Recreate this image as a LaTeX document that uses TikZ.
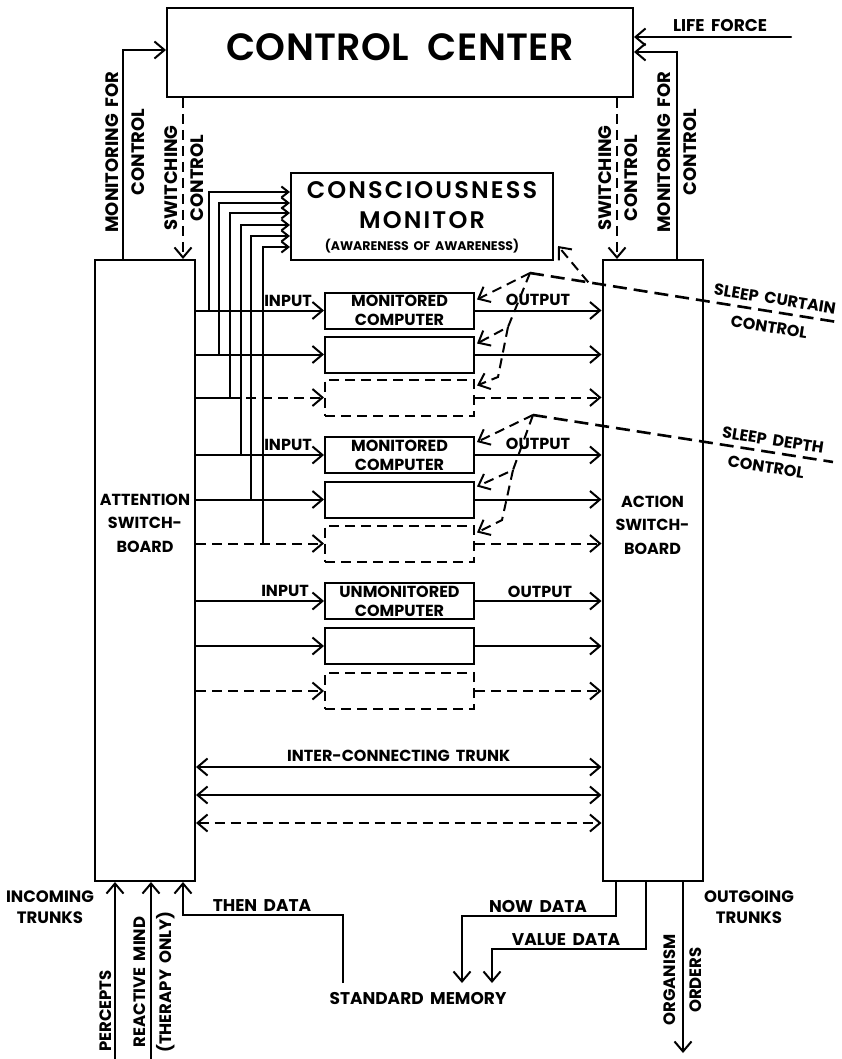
\documentclass[tikz,border=0pt]{standalone}
\usepackage{fontspec}
\newfontfamily\futura{Poppins Bold}[WordSpace=1.8]
\newfontfamily\futurawide{Poppins SemiBold}[LetterSpace=1,WordSpace=2]
\newfontfamily\futuraspread{Poppins SemiBold}[LetterSpace=9]
\usepackage{tikz}
\usetikzlibrary{arrows.meta,positioning,calc}

\begin{document}
\begin{tikzpicture}[x=1pt, y=-1pt, line width=2pt,
  >={Straight Barb[length=10pt,width=17pt]},
  lbl/.style={font=\futura\fontsize{16}{19}\selectfont, inner sep=1pt, align=center},
  vlbl/.style={font=\futura\fontsize{18}{26}\selectfont, inner sep=0pt, align=center, rotate=90},
  blbl/.style={font=\futura\fontsize{16.5}{26}\selectfont, inner sep=0pt, align=center, rotate=90},
  tilt/.style={font=\futura\fontsize{16}{19}\selectfont, inner sep=0pt, rotate=-9},
  board/.style={draw, rectangle, inner sep=0pt, minimum width=100pt, minimum height=621pt},
  comp/.style={draw, rectangle, inner sep=0pt, minimum width=149pt, minimum height=36pt, lbl},
  dashcomp/.style={comp, dsh},
  dsh/.style={dash pattern=on 10pt off 6pt},
  curtain/.style={line width=2.6pt, dash pattern=on 14pt off 7pt},
  feed/.style={-{Straight Barb[length=7pt,width=11pt]}}]
\useasboundingbox (0,0) rectangle (841,1059);

% Main boxes
\node[draw, minimum width=466pt, minimum height=89pt, inner sep=0pt, text height=27pt, text depth=10pt,
  font=\futurawide\fontsize{38}{40}\selectfont] (cc) at (400,52.5) {CONTROL CENTER};
\node[draw, minimum width=262pt, minimum height=87pt, inner sep=0pt] (cm) at (422,216.5) {};
\node[font=\futuraspread\fontsize{24}{26}\selectfont, anchor=base, inner sep=0pt] (cmt) at ($(cm.north)+(0,27)$) {CONSCIOUSNESS};
\node[font=\futuraspread\fontsize{24}{26}\selectfont, anchor=base, inner sep=0pt] (cmm) at ($(cm.north)+(0,57)$) {MONITOR};
\node[font=\futura\fontsize{12.5}{13}\selectfont, anchor=base, inner sep=0pt] (cma) at ($(cm.north)+(0,79)$) {(AWARENESS OF AWARENESS)};
\node[board] (att) at (145,570.5) {};
\node[board] (act) at (652.5,570.5) {};
\node[lbl, font=\futura\fontsize{16}{23.5}\selectfont] at (145,523) {ATTENTION\\SWITCH-\\BOARD};
\node[lbl, font=\futura\fontsize{16}{23.5}\selectfont] at (652.5,525) {ACTION\\SWITCH-\\BOARD};

% Computers
\node[comp] (c1) at (399.5,310.5) {MONITORED\\COMPUTER};
\node[comp] (c2) at (399.5,354.5) {};
\node[dashcomp] (c3) at (399.5,397.5) {};
\node[comp] (c4) at (399.5,455) {MONITORED\\COMPUTER};
\node[comp] (c5) at (399.5,499.5) {};
\node[dashcomp] (c6) at (399.5,543.5) {};
\node[comp] (c7) at (399.5,601) {UNMONITORED\\COMPUTER};
\node[comp] (c8) at (399.5,646) {};
\node[dashcomp] (c9) at (399.5,691) {};

\foreach \i in {1,2,4,5,7,8} {
  \draw[->] (att.east |- c\i.west) -- (c\i.west);
  \draw[->] (c\i.east) -- (act.west |- c\i.east);
}
\draw (att.east |- c3.west) -- (c3.west -| 230,0);
\draw[->, dsh] (c3.west -| 230,0) -- (c3.west);
\draw[->, dsh] (att.east |- c6.west) -- (c6.west);
\draw[->, dsh] (att.east |- c9.west) -- (c9.west);
\foreach \i in {3,6,9}
  \draw[->, dsh] (c\i.east) -- (act.west |- c\i.east);

% Feeders to the monitor
\foreach \i/\x/\y in {1/209/192, 2/219/203, 3/230/213, 4/241/225, 5/251/236, 6/263/247}
  \draw[feed] (c\i.west -| \x,0) |- (cm.west |- 0,\y);

\node[lbl, anchor=base] at (288,306) {INPUT};
\node[lbl, anchor=base] at (288,450) {INPUT};
\node[lbl, anchor=base] at (285,596) {INPUT};
\node[lbl, anchor=base] at (538,305) {OUTPUT};
\node[lbl, anchor=base] at (538,449) {OUTPUT};
\node[lbl, anchor=base] at (540,597) {OUTPUT};

% Inter-connecting trunk
\coordinate (tr1) at (0,767);
\coordinate (tr2) at (0,795);
\coordinate (tr3) at (0,823);
\draw[<->] (att.east |- tr1) -- (act.west |- tr1) node[lbl, midway, above=3pt] {INTER-CONNECTING TRUNK};
\draw[<->] (att.east |- tr2) -- (act.west |- tr2);
\draw[<->, dsh] (att.east |- tr3) -- (act.west |- tr3);

% Control lines
\draw[->] (att.north -| 123,0) |- (cc.west |- 0,50);
\draw[->] (act.north -| 677,0) |- (cc.east |- 0,52);
\draw[->, dsh] (cc.south -| 183,0) -- (att.north -| 183,0);
\draw[->, dsh] (cc.south -| 617,0) -- (act.north -| 617,0);
\coordinate (lf) at (791,37);
\draw[->, line cap=round] (lf) -- (cc.east |- lf);
\node[lbl, font=\futura\fontsize{17}{19}\selectfont, anchor=base] at (720,32) {LIFE FORCE};
\node[vlbl] at (125,152) {MONITORING FOR\\CONTROL};
\node[vlbl] at (184,178) {SWITCHING\\CONTROL};
\node[vlbl] at (618,178) {SWITCHING\\CONTROL};
\node[vlbl] at (677,152) {MONITORING FOR\\CONTROL};

% Sleep curtain
\coordinate (sc0) at (530,273);
\coordinate (sc1) at (837,322);
\coordinate (sc2) at (508,327);
\coordinate (sc3) at (498,377);
\draw[curtain] (sc0) -- (sc1);
\draw[->, dsh] ($(sc0)!0.19!(sc1)$) -- ([xshift=4pt,yshift=15pt]cm.south east);
\draw[->, dsh] (sc0) -- ([xshift=2pt,yshift=-8pt]c1.north east);
\draw[->, dsh] (sc0) -- (sc2) -- ([xshift=2pt,yshift=-8pt]c2.north east);
\draw[->, dsh] (sc2) -- (sc3) -- ([xshift=2pt,yshift=-7pt]c3.north east);
\node[tilt] at (775,299) {SLEEP CURTAIN};
\node[tilt] at (769,327) {CONTROL};

% Sleep depth
\coordinate (sd0) at (533,415);
\coordinate (sd1) at (833,462);
\coordinate (sd2) at (513,470);
\coordinate (sd3) at (502,520);
\draw[curtain] (sd0) -- (sd1);
\draw[->, dsh] (sd0) -- ([xshift=2pt,yshift=-6pt]c4.north east);
\draw[->, dsh] (sd0) -- (sd2) -- ([xshift=2pt,yshift=-6pt]c5.north east);
\draw[->, dsh] (sd2) -- (sd3) -- ([xshift=2pt,yshift=-8pt]c6.north east);
\node[tilt] at (773,440) {SLEEP DEPTH};
\node[tilt] at (766,467) {CONTROL};

% Incoming trunks
\coordinate (perc) at (115,1059);
\coordinate (reac) at (151,1059);
\coordinate (thn) at (343,983);
\draw[->] (perc) -- (att.south -| perc);
\draw[->] (reac) -- (att.south -| reac);
\draw[->] (thn) -- (343,915) -| (att.south -| 183,0);
\node[lbl, font=\futura\fontsize{16.5}{21}\selectfont] at (50,907) {INCOMING\\TRUNKS};
\node[blbl] at (106,1011) {PERCEPTS};
\node[blbl] at (154,982) {REACTIVE MIND\\(THERAPY ONLY)};
\node[lbl, font=\futura\fontsize{17}{19}\selectfont, anchor=base] at (262,911) {THEN DATA};

% Outgoing trunks
\node[lbl, font=\futura\fontsize{17}{19}\selectfont] (mem) at (418,998) {STANDARD MEMORY};
\coordinate (memL) at (462,983);
\coordinate (memR) at (492,983);
\coordinate (ord) at (683,1053);
\draw[->] (act.south -| 616,0) -- (616,916) -| (memL);
\draw[->] (act.south -| 646,0) -- (646,949) -| (memR);
\draw[->] (act.south -| ord) -- (ord);
\node[lbl, font=\futura\fontsize{17}{19}\selectfont, anchor=base] at (538,912) {NOW DATA};
\node[lbl, font=\futura\fontsize{17}{19}\selectfont, anchor=base] at (566,945) {VALUE DATA};
\node[blbl] at (683,980) {ORGANISM\\ORDERS};
\node[lbl, font=\futura\fontsize{16.5}{21}\selectfont] at (749,907) {OUTGOING\\TRUNKS};
\end{tikzpicture}
\end{document}
